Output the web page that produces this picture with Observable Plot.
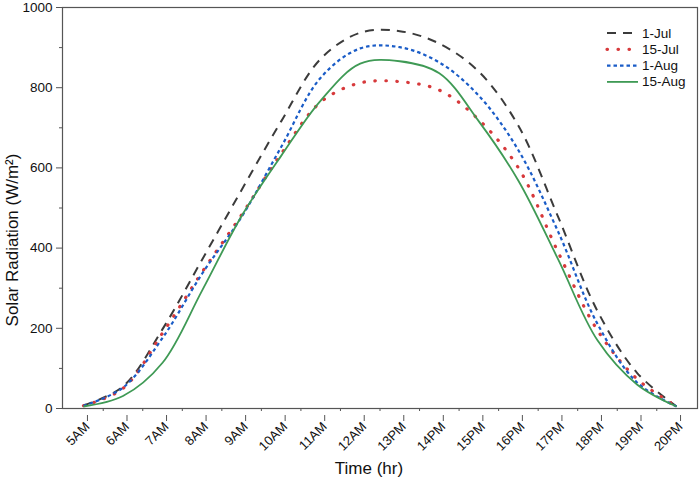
<!DOCTYPE html>
<html><head><meta charset="utf-8">
<script src="https://cdn.jsdelivr.net/npm/d3@7"></script>
<script src="https://cdn.jsdelivr.net/npm/@observablehq/plot@0.6"></script>
<style>
body{margin:0;background:#fff;font-family:"Liberation Sans",Arial,sans-serif}
#chart{position:relative;width:699px;height:480px}
</style>
</head><body><div id="chart"></div>
<script>
const hours = [5,6,7,8,9,10,11,12,13,14,15,16,17,18,19,20];
const hourLabels = ["5AM","6AM","7AM","8AM","9AM","10AM","11AM","12AM","13PM","14PM","15PM","16PM","17PM","18PM","19PM","20PM"];
const jul1  = [8, 55, 198, 371, 545, 716, 872, 937, 941, 910, 840, 705, 479, 243, 89, 5];
const jul15 = [7, 50, 188, 340, 483, 635, 764, 812, 815, 794, 720, 600, 391, 195, 74, 5];
const aug1  = [7, 52, 176, 336, 478, 652, 825, 898, 901, 863, 780, 644, 442, 211, 65, 5];
const aug15 = [5, 31, 114, 294, 480, 630, 768, 860, 866, 836, 716, 568, 373, 170, 60, 5];
const seriesNames = ["1-Jul","15-Jul","1-Aug","15-Aug"];
const seriesValues = [jul1, jul15, aug1, aug15];
const yTicks = [0,200,400,600,800,1000];
const yMinor = [100,300,500,700,900];
const xMinor = [5.5,6.5,7.5,8.5,9.5,10.5,11.5,12.5,13.5,14.5,15.5,16.5,17.5,18.5,19.5];

const styles = [
  {stroke:"#3b3b3b", strokeWidth:2, strokeDasharray:"9,7", strokeLinecap:"butt"},
  {stroke:"#d7393b", strokeWidth:3.2, strokeDasharray:"0.5,10.5", strokeLinecap:"round"},
  {stroke:"#1a5cc7", strokeWidth:2.2, strokeDasharray:"3.5,3", strokeLinecap:"butt"},
  {stroke:"#3f9a55", strokeWidth:1.8, strokeDasharray:null, strokeLinecap:"butt"}
];

const rows = [];
seriesNames.forEach((s,i)=>hours.forEach((h,j)=>rows.push({series:s, hour:h, value:seriesValues[i][j]})));

const axisColor = "#555";
const marks = [
  Plot.frame({stroke:axisColor, strokeWidth:1.2}),
  Plot.axisY(yMinor, {tickSize:3, tickFormat:()=>"", stroke:axisColor, label:null}),
  Plot.axisY(yTicks, {tickSize:6, tickPadding:4, fontSize:13.5, fill:"#111", stroke:axisColor, label:null, tickFormat:(d)=>String(d)}),
  Plot.axisX(xMinor, {tickSize:3, tickFormat:()=>"", stroke:axisColor, label:null}),
  Plot.axisX(hours, {tickSize:6, tickPadding:3, tickRotate:-45, fontSize:13, fill:"#111", stroke:axisColor, label:null,
    dx:4, dy:7, tickFormat:(d)=>hourLabels[hours.indexOf(d)]}),
  ...seriesNames.map((s,i)=>Plot.line(rows.filter(r=>r.series===s), {x:"hour", y:"value", curve:"catmull-rom", ...styles[i]}))
];

const chart = Plot.plot({
  width:699, height:480,
  marginLeft:62, marginRight:2, marginTop:7, marginBottom:72,
  style:{fontFamily:"'Liberation Sans', Arial, sans-serif", background:"#fff"},
  x:{domain:[4.47,20.53]},
  y:{domain:[0,1000]},
  marks
});
document.getElementById("chart").appendChild(chart);

const svg = d3.select(chart);
// axis titles
svg.append("text").attr("x",369).attr("y",474).attr("text-anchor","middle")
  .attr("font-size",17).attr("fill","#111").text("Time (hr)");
svg.append("text").attr("transform","translate(18,240) rotate(-90)").attr("text-anchor","middle")
  .attr("font-size",17).attr("fill","#111").text("Solar Radiation (W/m²)");
// legend
const lg = svg.append("g");
seriesNames.forEach((s,i)=>{
  const y = 33 + i*16.3;
  const st = styles[i];
  const ln = lg.append("line").attr("x1",607).attr("x2",638).attr("y1",y).attr("y2",y)
    .attr("stroke",st.stroke).attr("stroke-width",st.strokeWidth).attr("stroke-linecap",st.strokeLinecap);
  if (st.strokeDasharray) ln.attr("stroke-dasharray", st.strokeDasharray);
  lg.append("text").attr("x",642).attr("y",y+4.5).attr("text-anchor","start")
    .attr("font-size",13.5).attr("fill","#111").text(s);
});
</script>
</body></html>
